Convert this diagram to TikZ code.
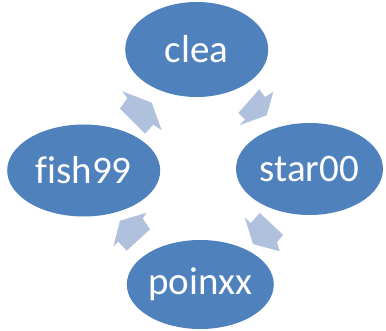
\documentclass[tikz,border=0pt]{standalone}
\usepackage{fontspec}
\setmainfont{Carlito}[Ligatures=NoCommon]
\usepackage{tikz}
\usetikzlibrary{shapes.geometric}

\definecolor{nodeblue}{HTML}{4F81BD}
\definecolor{arrowblue}{HTML}{B0C1DE}

\begin{document}
\begin{tikzpicture}[x=1pt, y=-1pt,
    bubble/.style={ellipse, fill=nodeblue, text=white, inner sep=0pt,
        font=\fontsize{39}{39}\selectfont},
    arrowfill/.style={fill=arrowblue}]
    \useasboundingbox (0, 0) rectangle (386, 331);

    % Nodes
    \node[bubble, minimum width=143pt, minimum height=95pt] (clea) at (196.7, 49.5) {clea};
    \node[bubble, minimum width=147pt, minimum height=92pt] (star) at (309.5, 169) {star00};
    \node[bubble, minimum width=126pt, minimum height=89pt] (poin) at (200.3, 284.5) {poinxx};
    \node[bubble, minimum width=153pt, minimum height=92pt] (fish) at (83.7, 170.5) {fish99};

    % fish99 -> clea
    \fill[arrowfill] (122.3, 91.3) -- (151.7, 102.7) -- (161.7, 130.3) -- (153.3, 124.7)
        -- (145, 133.7) -- (120, 108.7) -- (127.3, 98) -- cycle;

    % clea -> star00
    \fill[arrowfill] (259.3, 89.3) -- (265, 97) -- (273.3, 92) -- (266.7, 115.3)
        -- (239.3, 125.3) -- (245, 119.7) -- (238.3, 113) -- cycle;

    % star00 -> poinxx
    \fill[arrowfill] (244.7, 217.3) -- (250.7, 223) -- (259.7, 213) -- (283, 234.7)
        -- (277, 242.3) -- (279.7, 251.3) -- (253, 244) -- cycle;

    % poinxx -> fish99
    \fill[arrowfill] (120, 220.7) -- (146.7, 212.7) -- (142.7, 218.3) -- (150, 229.3)
        -- (126.7, 250.7) -- (118.3, 241.7) -- (113.3, 246.7) -- cycle;
\end{tikzpicture}
\end{document}
